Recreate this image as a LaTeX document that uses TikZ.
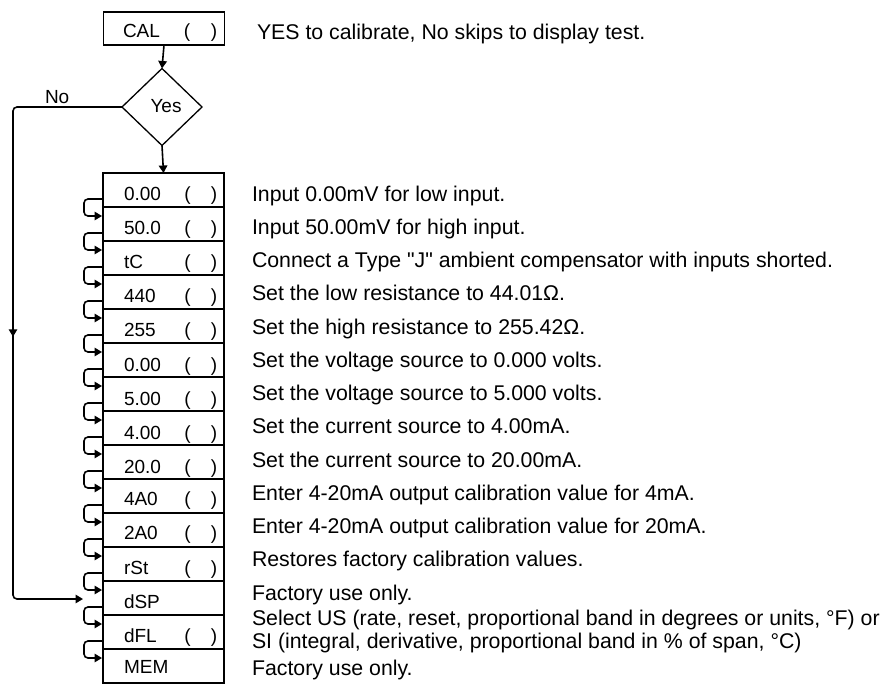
\documentclass[tikz,border=0pt]{standalone}
\usepackage{fontspec}
\setmainfont{Liberation Sans}[Ligatures=TeXOff]
\usetikzlibrary{arrows.meta,shapes.geometric,calc,decorations.markings}
\begin{document}
\begin{tikzpicture}[x=1pt,y=-1pt,
  every node/.style={inner sep=0pt, outer sep=0pt},
  line/.style={line width=1.6pt},
  tipa/.style={-{Triangle[length=7.5pt,width=8.5pt]}},
  rowbox/.style={draw, line width=1.6pt, minimum width=121pt, minimum height=34pt},
  boxlbl/.style={font=\fontsize{19}{19}\selectfont, anchor=base west},
  parlbl/.style={font=\fontsize{19}{19}\selectfont, anchor=base},
  desc/.style={font=\fontsize{21.3}{21.3}\selectfont, anchor=base west},
]
\useasboundingbox (0,0) rectangle (890,690);
% top box and decision
\node[rowbox, minimum height=33pt] (cal) at (164,28.5) {};
\node[boxlbl] (calt) at (123,38) {CAL};
\node[parlbl] (calp1) at (187,38) {(};
\node[parlbl] (calp2) at (214,38) {)};
\node[desc] (cald) at (257,39.5) {YES to calibrate, No skips to display test.};
\node[diamond, draw, line width=1.3pt, minimum width=80pt, minimum height=77pt] (dec) at (162,107) {};
\node[parlbl] (yes) at (166,113) {Yes};
\node[boxlbl] (no) at (45,103) {No};
% rows
\foreach \i/\lbl/\hp/\dy in {1/0.00/1/10.5,2/50.0/1/10.5,3/tC/1/10.5,4/440/1/10.5,5/255/1/10.5,6/0.00/1/11,7/5.00/1/11,8/4.00/1/11,9/20.0/1/11,10/4A0/1/9,11/2A0/1/9.5,12/rSt/1/10.5,13/dSP/0/10,14/dFL/1/10.5,15/MEM/0/7}{
  \node[rowbox] (r\i) at (163.5,{190+34*(\i-1)}) {};
  \node[boxlbl] (t\i) at (124,{190+\dy+34*(\i-1)}) {\lbl};
  \ifnum\hp=1
    \node[parlbl] (pa\i) at (187.5,{190+\dy+34*(\i-1)}) {(};
    \node[parlbl] (pb\i) at (214,{190+\dy+34*(\i-1)}) {)};
  \fi
}
% descriptions
\node[desc] (d1) at (252,201) {Input 0.00mV for low input.};
\node[desc] (d2) at (252,234.25) {Input 50.00mV for high input.};
\node[desc] (d3) at (252,267.5) {Connect a Type \char34J\char34{} ambient compensator with inputs shorted.};
\node[desc] (d4) at (252,300.75) {Set the low resistance to 44.01Ω.};
\node[desc] (d5) at (252,334) {Set the high resistance to 255.42Ω.};
\node[desc] (d6) at (252,367.25) {Set the voltage source to 0.000 volts.};
\node[desc] (d7) at (252,400.5) {Set the voltage source to 5.000 volts.};
\node[desc] (d8) at (252,433.75) {Set the current source to 4.00mA.};
\node[desc] (d9) at (252,467) {Set the current source to 20.00mA.};
\node[desc] (d10) at (252,500.25) {Enter 4-20mA output calibration value for 4mA.};
\node[desc] (d11) at (252,533.5) {Enter 4-20mA output calibration value for 20mA.};
\node[desc] (d12) at (252,566.75) {Restores factory calibration values.};
\node[desc] (d13) at (252,600) {Factory use only.};
\node[desc] (d14a) at (252,625) {Select US (rate, reset, proportional band in degrees or units, °F) or};
\node[desc] (d14b) at (252,648) {SI (integral, derivative, proportional band in \% of span, °C)};
\node[desc] (d15) at (252,675.5) {Factory use only.};
% connectors
\draw[line,tipa] (cal.south) -- (dec.north);
\draw[line,tipa] (dec.south) -- (r1.north);
\coordinate (nc1) at (13,107);
\coordinate (nc2) at (13,599);
\coordinate (nend) at (83,599);
\draw[line,rounded corners=4pt,tipa] (dec.west) -- (nc1) -- (nc2) -- (nend);
\path[decorate,decoration={markings,mark=at position 0.467 with {\arrow[line width=1.6pt]{Triangle[length=7.5pt,width=8.5pt]}}}] (nc1) -- (nc2);
% hooks
\foreach \i in {1,...,14}{
  \draw[line,rounded corners=4pt,tipa] ($(r\i.south west)+(0,-8)$) -- ++(-19,0) -- ++(0,17) -- ($(r\i.south west)+(-1,9)$);
}
\end{tikzpicture}
\end{document}
